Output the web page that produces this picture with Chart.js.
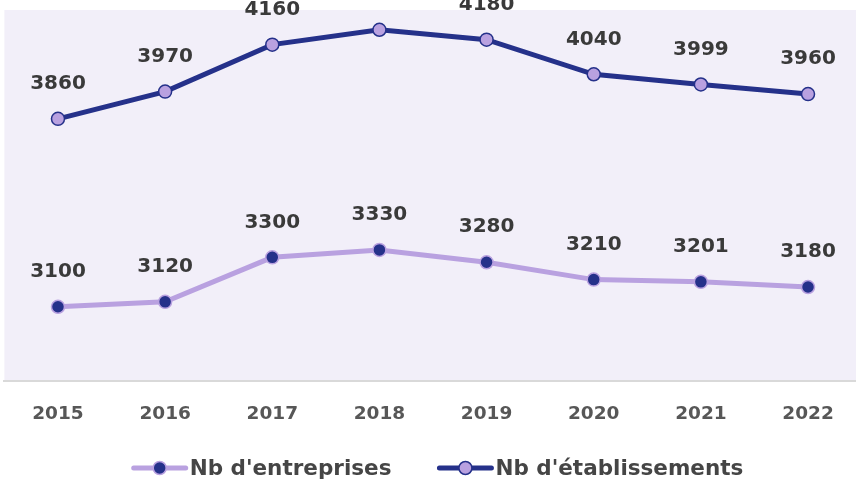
<!DOCTYPE html>
<html>
<head>
<meta charset="utf-8">
<script src="https://cdn.jsdelivr.net/npm/chart.js@4"></script>
<style>
html,body{margin:0;padding:0;background:#fff;overflow:hidden;width:856px;height:480px;}
#wrap{position:absolute;left:0;top:0;width:862px;height:480px;}
</style>
</head>
<body>
<div id="wrap"><canvas id="c" width="862" height="480"></canvas></div>
<script>
const categories = ['2015','2016','2017','2018','2019','2020','2021','2022'];
const entreprises = [3100, 3120, 3300, 3330, 3280, 3210, 3201, 3180];
const etablissements = [3860, 3970, 4160, 4220, 4180, 4040, 3999, 3960];
const seriesNames = ["Nb d'entreprises", "Nb d'établissements"];

const NAVY = '#25318a';
const LILAC = '#b9a1e0';
const FONT = "'DejaVu Sans', 'Open Sans', sans-serif";

const bgPlugin = {
  id: 'bg',
  beforeDraw(chart){
    const {ctx, chartArea:a} = chart;
    ctx.save();
    ctx.fillStyle = '#f2eff9';
    ctx.fillRect(a.left, a.top, a.right-a.left, a.bottom-a.top);
    ctx.restore();
  }
};

const labelPlugin = {
  id: 'vlabels',
  afterDatasetsDraw(chart){
    const ctx = chart.ctx;
    ctx.save();
    ctx.font = "bold 20px " + FONT;
    ctx.fillStyle = '#3a3a3a';
    ctx.textAlign = 'center';
    ctx.textBaseline = 'middle';
    chart.data.datasets.forEach((ds, i) => {
      chart.getDatasetMeta(i).data.forEach((pt, j) => {
        ctx.fillText(String(ds.data[j]), pt.x, pt.y - 35);
      });
    });
    ctx.restore();
  }
};

// custom legend: line + point marker followed directly by text
const legendPlugin = {
  id: 'lineLegend',
  afterDraw(chart){
    const ctx = chart.ctx;
    const y = 468;
    const markW = 58, gapText = 1, gapItems = 45, centerX = 437;
    ctx.save();
    ctx.font = "bold 21.5px " + FONT;
    const items = chart.data.datasets.map(ds => ({
      ds, w: ctx.measureText(ds.label).width
    }));
    let total = 0;
    items.forEach((it, i) => { total += markW + gapText + it.w + (i ? gapItems : 0); });
    let x = centerX - total / 2;
    items.forEach((it, i) => {
      if (i) x += gapItems;
      const ds = it.ds;
      ctx.strokeStyle = ds.borderColor; ctx.lineWidth = 5; ctx.lineCap = 'round';
      ctx.beginPath(); ctx.moveTo(x + 3, y); ctx.lineTo(x + markW - 3, y); ctx.stroke();
      ctx.beginPath(); ctx.arc(x + markW / 2, y, 6.5, 0, Math.PI * 2);
      ctx.fillStyle = ds.pointBackgroundColor; ctx.fill();
      ctx.lineWidth = 1.5; ctx.strokeStyle = ds.pointBorderColor; ctx.stroke();
      x += markW + gapText;
      ctx.fillStyle = '#454545';
      ctx.textAlign = 'left'; ctx.textBaseline = 'middle';
      ctx.fillText(ds.label, x, y + 1);
      x += it.w;
    });
    ctx.restore();
  }
};

new Chart(document.getElementById('c'), {
  type: 'line',
  data: {
    labels: categories,
    datasets: [
      {
        label: seriesNames[0],
        data: entreprises,
        borderColor: LILAC,
        borderWidth: 5,
        pointRadius: 6.5,
        pointBorderWidth: 1.5,
        pointBackgroundColor: NAVY,
        pointBorderColor: LILAC,
        tension: 0
      },
      {
        label: seriesNames[1],
        data: etablissements,
        borderColor: NAVY,
        borderWidth: 5,
        pointRadius: 6.5,
        pointBorderWidth: 1.5,
        pointBackgroundColor: LILAC,
        pointBorderColor: NAVY,
        tension: 0
      }
    ]
  },
  options: {
    responsive: false,
    animation: false,
    layout: { autoPadding: false, padding: { left: 4.4, right: 0.4, top: 10, bottom: 32.8 } },
    scales: {
      x: {
        offset: true,
        grid: { display: false, drawTicks: false },
        border: { display: true, color: '#d9d9d9', width: 2 },
        ticks: { autoSkip: false, maxRotation: 0, color: '#575757', font: { family: FONT, size: 18.5, weight: 'bold' }, padding: 22 }
      },
      y: {
        display: false,
        min: 2800,
        max: 4300
      }
    },
    plugins: {
      legend: { display: false },
      tooltip: { enabled: false }
    }
  },
  plugins: [bgPlugin, labelPlugin, legendPlugin]
});
</script>
</body>
</html>
